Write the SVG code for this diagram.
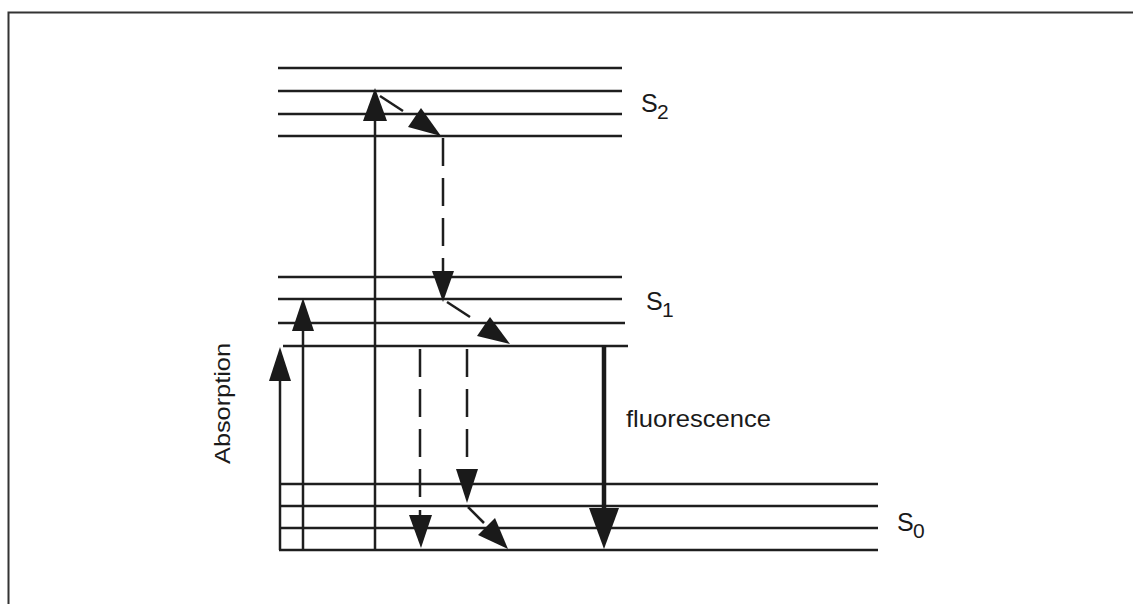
<svg xmlns="http://www.w3.org/2000/svg" width="1133" height="604" viewBox="0 0 1133 604">
<style>
.lvl{stroke:#1e1e1e;stroke-width:2.5;fill:none}
.ln{stroke:#1e1e1e;stroke-width:2.5;fill:none}
.dash{stroke:#1e1e1e;stroke-width:2.5;fill:none;stroke-dasharray:28 12}
.head{fill:#1a1a1a;stroke:none}
.lbl{font-family:"Liberation Sans",Arial,Helvetica,sans-serif;fill:#1a1a1a}
</style>
<rect x="0" y="0" width="1133" height="604" fill="#fff"/>
<g id="frame">
<path d="M8.5 604 V12.5 H1133" fill="none" stroke="#333" stroke-width="2"/>
</g>
<g id="S2">
<line class="lvl" x1="278" y1="68" x2="622" y2="68"/>
<line class="lvl" x1="278" y1="91" x2="622" y2="91"/>
<line class="lvl" x1="278" y1="114" x2="622" y2="114"/>
<line class="lvl" x1="278" y1="136" x2="622" y2="136"/>
<text class="lbl" x="641" y="112" font-size="25">S</text>
<text class="lbl" x="657" y="119" font-size="21">2</text>
</g>
<g id="S1">
<line class="lvl" x1="278" y1="277" x2="622" y2="277"/>
<line class="lvl" x1="278" y1="299" x2="622" y2="299"/>
<line class="lvl" x1="278" y1="323" x2="625" y2="323"/>
<line class="lvl" x1="283" y1="346" x2="628" y2="346"/>
<text class="lbl" x="646" y="310" font-size="25">S</text>
<text class="lbl" x="662" y="317" font-size="21">1</text>
</g>
<g id="S0">
<line class="lvl" x1="279" y1="484" x2="878" y2="484"/>
<line class="lvl" x1="279" y1="506" x2="878" y2="506"/>
<line class="lvl" x1="279" y1="528" x2="878" y2="528"/>
<line class="lvl" x1="279" y1="550" x2="878" y2="550"/>
<text class="lbl" x="897" y="531" font-size="25">S</text>
<text class="lbl" x="913" y="538" font-size="21">0</text>
</g>
<g id="labels">
<text class="lbl" x="0" y="0" font-size="22" textLength="121" lengthAdjust="spacingAndGlyphs" transform="translate(230,464) rotate(-90)">Absorption</text>
<text class="lbl" x="626" y="427" font-size="24" textLength="145" lengthAdjust="spacingAndGlyphs">fluorescence</text>
</g>
<g id="connectors">
<line class="ln" x1="280" y1="550" x2="280" y2="378"/>
<polygon class="head" points="280,347 269,381 291,381"/>
<line class="ln" x1="303" y1="550" x2="303" y2="328"/>
<polygon class="head" points="303,298 292,331 314,331"/>
<line class="ln" x1="375" y1="550" x2="375" y2="118"/>
<polygon class="head" points="375,88 363,121 387,121"/>
<line class="ln" x1="380" y1="96" x2="403" y2="111"/>
<polygon class="head" points="441,136 408,127 421,108"/>
<line class="dash" x1="443" y1="138" x2="443" y2="274"/>
<polygon class="head" points="443,302 432,271 454,271"/>
<line class="ln" x1="447" y1="302" x2="470" y2="317"/>
<polygon class="head" points="510,344 477,336 490,317"/>
<line class="dash" x1="420" y1="349" x2="420" y2="498"/>
<line class="ln" x1="420" y1="510" x2="420" y2="517"/>
<polygon class="head" points="421,548 409,515 432,515"/>
<line class="dash" x1="467" y1="349" x2="467" y2="470"/>
<polygon class="head" points="467,503 456,469 478,469"/>
<line class="ln" x1="468" y1="507" x2="484" y2="523"/>
<polygon class="head" points="508,549 478,535 495,518"/>
<line x1="604" y1="345" x2="604" y2="510" stroke="#1a1a1a" stroke-width="4.5"/>
<polygon class="head" points="604,549 589,508 619,508"/>
</g>
</svg>
